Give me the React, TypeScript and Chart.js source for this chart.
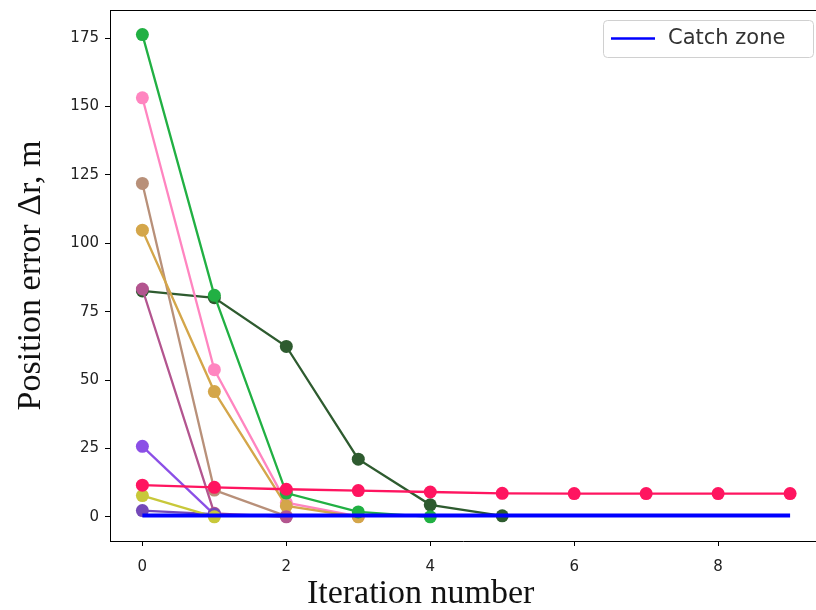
import React, { useEffect, useRef } from "react";
import { Chart, registerables } from "chart.js";

Chart.register(...registerables);

// Iteration indices and position error (m) for each tracked run
const iterations = [0, 1, 2, 3, 4, 5, 6, 7, 8, 9];
const runDarkGreen = [82.6, 80.1, 62.3, 21.1, 4.4, 0.4];
const runTan = [121.9, 9.8, 0.3];
const runPink = [153.2, 53.8, 5.2, 0.2];
const runGold = [104.8, 45.8, 4.0, 0];
const runGreen = [176.3, 81.0, 8.7, 1.8, 0];
const runMauve = [83.3, 1.3, 0];
const runPurple = [25.8, 0.8];
const runDarkPurple = [2.3, 1.0];
const runYellow = [7.8, 0];
const runCrimson = [11.6, 10.8, 10.1, 9.6, 9.1, 8.6, 8.5, 8.5, 8.5, 8.5];
const catchZone = [0.5, 0.5, 0.5, 0.5, 0.5, 0.5, 0.5, 0.5, 0.5, 0.5];

const xTicks = [0, 2, 4, 6, 8];
const yTicks = [0, 25, 50, 75, 100, 125, 150, 175];

const runs: { values: number[]; color: string }[] = [
  { values: runDarkGreen, color: "#2e5b2f" },
  { values: runTan, color: "#b89079" },
  { values: runPink, color: "#ff85c0" },
  { values: runGold, color: "#d4a64a" },
  { values: runGreen, color: "#21b043" },
  { values: runMauve, color: "#b3558f" },
  { values: runPurple, color: "#8b4fe6" },
  { values: runDarkPurple, color: "#7449b8" },
  { values: runYellow, color: "#c8c83a" },
  { values: runCrimson, color: "#ff1560" },
];

const toPoints = (vals: number[]) => vals.map((v, i) => ({ x: iterations[i], y: v }));

const noEdgePadding = (s: any) => {
  s.paddingTop = 0;
  s.paddingBottom = 0;
  s.paddingLeft = 0;
  s.paddingRight = 0;
};

// Top edge of the frame, inset legend and the x-axis caption
const decorPlugin = {
  id: "decor",
  afterDraw(chart: any) {
    const { ctx, chartArea: a } = chart;
    ctx.save();
    ctx.strokeStyle = "#000";
    ctx.lineWidth = 1;
    ctx.beginPath();
    ctx.moveTo(a.left, a.top + 0.5);
    ctx.lineTo(a.right, a.top + 0.5);
    ctx.stroke();

    // legend box (only the catch-zone line is labelled)
    const ds = chart.data.datasets.find((d: any) => d.label);
    if (ds) {
      const bx = a.left + 493;
      const by = a.top + 10;
      const bw = 210;
      const bh = 37;
      ctx.fillStyle = "rgba(255,255,255,0.85)";
      ctx.strokeStyle = "#d0d0d0";
      ctx.lineWidth = 1;
      ctx.beginPath();
      ctx.roundRect(bx + 0.5, by + 0.5, bw, bh, 4);
      ctx.fill();
      ctx.stroke();
      ctx.strokeStyle = ds.borderColor;
      ctx.lineWidth = 2.5;
      ctx.beginPath();
      ctx.moveTo(bx + 8, by + 18.5);
      ctx.lineTo(bx + 52, by + 18.5);
      ctx.stroke();
      ctx.fillStyle = "#333";
      ctx.font = "21px 'DejaVu Sans'";
      ctx.textBaseline = "middle";
      ctx.textAlign = "left";
      ctx.fillText(ds.label, bx + 65, by + 19);
    }

    // x-axis caption
    ctx.fillStyle = "#111";
    ctx.font = "34px 'Liberation Serif'";
    ctx.textAlign = "center";
    ctx.textBaseline = "alphabetic";
    ctx.fillText("Iteration number", a.left + 0.44 * (a.right - a.left), a.bottom + 62);
    ctx.restore();
  },
};

export default function App() {
  const ref = useRef<HTMLCanvasElement | null>(null);

  useEffect(() => {
    document.body.style.margin = "0";
    document.body.style.overflow = "hidden";
    if (!ref.current) return;
    const n = runs.length;
    const datasets: any[] = runs.map((r, i) => ({
      data: toPoints(r.values),
      borderColor: r.color,
      backgroundColor: r.color,
      pointBackgroundColor: r.color,
      pointBorderColor: r.color,
      borderWidth: 2.3,
      pointRadius: 6.5,
      pointBorderWidth: 0,
      order: n + 1 - i,
    }));
    datasets.push({
      label: "Catch zone",
      data: toPoints(catchZone),
      borderColor: "#0000ff",
      backgroundColor: "#0000ff",
      borderWidth: 4,
      pointRadius: 0,
      order: 0,
    });

    const chart = new Chart(ref.current, {
      type: "line",
      data: { datasets },
      plugins: [decorPlugin],
      options: {
        animation: false,
        responsive: false,
        maintainAspectRatio: false,
        layout: { autoPadding: false, padding: { left: 0, top: 10, right: 0, bottom: 0 } },
        plugins: { legend: { display: false }, tooltip: { enabled: false } },
        elements: { line: { tension: 0 } },
        scales: {
          x: {
            type: "linear",
            min: -0.45,
            max: 9.36,
            afterFit: (s: any) => {
              s.height = 69;
              noEdgePadding(s);
            },
            afterBuildTicks: (s: any) => {
              s.ticks = xTicks.map((v) => ({ value: v }));
            },
            grid: { drawOnChartArea: false, drawTicks: true, tickLength: 5, tickColor: "#000" },
            border: { display: true, color: "#000", width: 1 },
            ticks: {
              font: { family: "'DejaVu Sans'", size: 15 },
              color: "#222",
              padding: 12,
              maxRotation: 0,
            },
          },
          y: {
            type: "linear",
            min: -8.82,
            max: 185.3,
            afterFit: (s: any) => {
              s.width = 110;
              noEdgePadding(s);
            },
            afterBuildTicks: (s: any) => {
              s.ticks = yTicks.map((v) => ({ value: v }));
            },
            grid: { drawOnChartArea: false, drawTicks: true, tickLength: 5, tickColor: "#000" },
            border: { display: true, color: "#000", width: 1 },
            ticks: {
              font: { family: "'DejaVu Sans'", size: 15 },
              color: "#222",
              padding: 6,
            },
            title: {
              display: true,
              text: "Position error Δr, m",
              font: { family: "'Liberation Serif'", size: 34 },
              color: "#111",
              padding: { top: 11, bottom: 4 },
            },
          },
        },
      },
    });
    return () => chart.destroy();
  }, []);

  return <canvas ref={ref} width={816} height={610} style={{ display: "block" }} />;
}
